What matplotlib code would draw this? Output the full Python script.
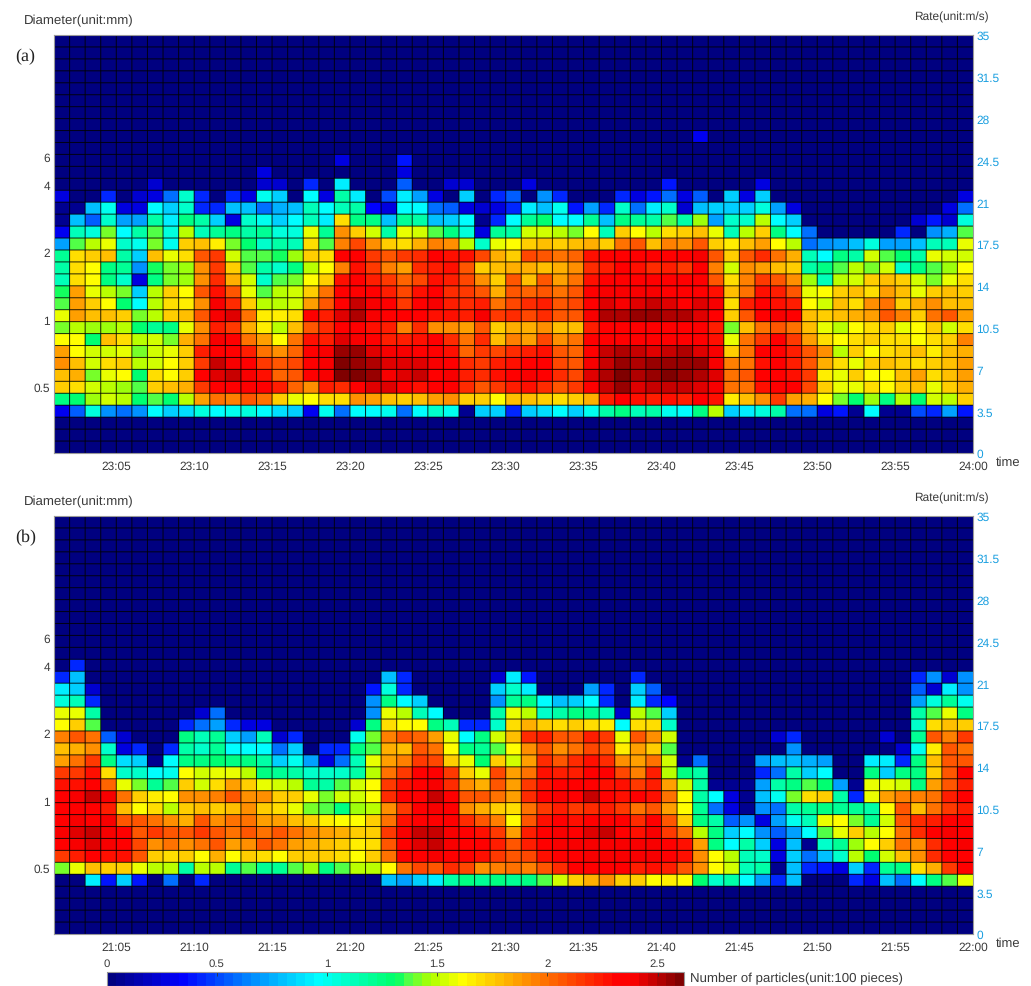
"""Particle-count spectra of rain drops, two panels sharing one colour bar."""
import numpy as np
import matplotlib
matplotlib.use("Agg")
import matplotlib.pyplot as plt
from matplotlib.colors import LinearSegmentedColormap

plt.rcParams["font.family"] = ["Liberation Sans", "DejaVu Sans"]
plt.rcParams["text.hinting"] = "no_hinting"

W, H = 1031, 987
N_COLS, N_ROWS = 59, 35
VMAX = 262  # particles; the bar reads in hundreds

# ---- panel (a): particles per cell, one list per rate bin (1 m/s), 59 minutes ----
a03 = [30,55,105,68,58,68,95,82,88,105,98,100,105,95,88,82,30,100,58,96,95,100,58,97,108,100,5,82,85,45,
       82,88,96,85,100,115,125,112,118,102,96,126,148,85,94,106,116,58,60,28,40,5,97,5,5,50,42,70,38]
a04 = [125,130,147,155,150,130,138,128,148,188,200,195,205,200,172,158,160,170,168,192,185,180,175,180,185,192,172,175,162,180,
       178,172,168,172,182,222,236,228,222,228,222,234,226,165,178,192,214,186,182,162,140,128,147,125,150,128,153,150,172]
a05 = [172,170,155,148,146,138,172,178,182,215,232,232,232,230,222,203,192,224,218,236,242,242,230,228,232,232,220,208,215,222,
       228,218,208,214,236,246,256,243,247,247,248,243,241,198,200,228,236,230,212,172,157,156,168,163,172,180,156,172,183]
a06 = [180,183,140,156,160,128,170,163,172,230,244,246,238,226,202,205,236,238,258,258,254,238,242,246,236,238,222,218,226,235,
       238,236,220,212,243,250,258,253,256,258,255,253,245,198,205,236,234,228,214,165,158,172,163,162,178,185,170,180,185]
a07 = [190,178,155,170,172,148,155,160,175,216,247,238,236,216,205,210,236,238,258,256,252,244,243,244,238,236,218,215,222,228,
       230,232,212,205,238,247,256,253,254,256,255,254,238,195,200,228,236,222,205,182,168,158,176,178,172,168,172,180,188]
a08 = [188,162,155,153,156,140,153,158,172,222,236,236,224,200,190,202,236,238,256,256,245,238,238,237,232,228,203,215,212,218,
       222,226,205,203,236,246,250,248,245,247,250,244,238,175,198,230,236,222,205,190,148,172,163,170,172,178,165,178,182]
a09 = [162,161,130,178,170,150,155,140,182,198,238,234,200,185,163,198,228,225,243,238,230,222,222,228,234,218,200,218,180,195,
       188,212,190,198,230,236,236,232,234,236,233,236,226,156,200,215,232,216,186,170,162,168,176,168,168,162,170,172,195]
a10 = [143,150,146,147,150,128,122,125,158,192,225,216,182,165,150,180,205,218,236,236,228,222,195,218,192,192,185,205,172,182,
       182,190,180,178,222,236,236,236,236,236,236,236,222,142,178,200,205,198,178,158,150,162,170,172,158,160,172,152,168]
a11 = [156,185,178,180,175,140,150,172,180,205,240,243,198,165,165,170,234,225,245,250,238,230,233,234,228,226,224,238,214,218,
       212,220,205,208,241,252,251,254,255,253,250,243,236,172,205,236,238,232,180,172,178,182,188,205,195,172,198,205,188]
a12 = [138,188,172,163,128,97,150,170,164,190,238,220,175,150,148,155,188,205,236,246,240,230,215,236,238,224,220,224,200,210,
       218,222,205,212,236,245,238,243,248,245,236,245,238,170,222,232,226,222,163,155,178,170,192,198,175,182,190,180,180]
a13 = [135,185,156,150,140,85,150,172,163,208,228,205,156,138,148,155,172,198,236,234,236,224,212,228,234,218,214,208,182,205,
       203,205,198,205,232,241,238,238,238,236,236,236,228,178,200,228,222,205,158,162,172,178,170,186,178,158,172,178,176]
a14 = [112,170,162,125,108,28,125,140,146,192,218,182,152,108,138,140,162,175,226,234,224,216,202,212,228,222,212,190,172,205,
       178,205,188,200,228,236,236,236,236,232,230,236,205,170,195,214,205,190,146,112,150,153,172,180,172,152,140,158,168]
a15 = [115,170,163,125,120,68,135,140,146,192,215,172,138,118,108,125,148,162,195,228,215,195,188,218,222,226,208,172,178,182,
       182,178,182,192,220,222,232,226,220,224,216,236,195,154,190,188,180,172,118,125,138,148,142,155,110,125,136,147,163]
a16 = [120,168,172,180,118,82,178,158,170,208,216,155,136,138,135,146,172,170,234,236,215,208,215,220,234,228,226,212,182,176,
       212,205,198,203,226,236,236,236,232,236,236,238,205,172,208,220,198,182,112,98,125,118,155,138,128,118,156,155,152]
a17 = [70,138,150,156,108,100,140,100,172,180,165,140,128,110,115,112,170,136,195,212,190,172,168,182,195,190,150,108,158,163,
       172,178,172,178,182,175,198,208,178,195,192,208,172,165,178,185,163,148,58,68,72,80,106,72,72,80,112,112,158]
a18 = [30,112,104,140,97,115,136,105,150,112,122,126,115,120,106,106,158,122,190,172,153,118,156,152,138,126,105,28,122,115,
       154,152,148,142,162,112,172,163,148,170,172,178,156,112,150,172,125,98,58,0,0,0,0,0,42,0,68,75,138]
a19 = [8,80,55,108,70,70,115,92,124,115,82,28,110,102,82,96,112,92,170,124,125,78,122,115,78,85,98,8,42,95,
       122,128,98,97,122,80,125,122,116,136,118,147,70,110,108,150,96,85,0,0,0,0,0,0,0,24,40,22,105]
a20 = [8,8,80,102,28,25,95,82,108,42,45,80,78,58,75,78,112,97,112,118,35,28,97,98,58,55,28,22,28,42,
       92,78,100,38,70,42,108,60,92,108,24,80,85,85,82,104,70,25,0,0,0,0,0,0,0,0,0,25,60]
a21 = [28,0,0,45,0,22,25,58,110,42,0,42,28,102,82,0,98,28,115,92,0,52,92,70,28,0,82,0,42,55,
       0,68,42,0,0,0,42,28,40,58,25,55,0,85,28,85,0,0,0,0,0,0,0,0,0,0,0,0,26]
A_ROWS = dict(zip(range(3, 22), [a03, a04, a05, a06, a07, a08, a09, a10, a11, a12, a13, a14, a15, a16, a17, a18, a19, a20, a21]))
# the few isolated cells higher up: rate bin, minute index, particles
a_top_bins = [22, 22, 22, 22, 22, 22, 22, 22, 22, 22, 22, 23, 23, 24, 24, 26]
a_top_cols = [6, 13, 14, 16, 18, 22, 25, 26, 30, 39, 45, 13, 22, 18, 22, 41]
a_top_vals = [24, 24, 24, 45, 92, 55, 24, 24, 26, 38, 26, 25, 28, 26, 38, 30]

# ---- panel (b) ----
b04 = [0,0,92,40,82,40,0,58,0,42,0,0,0,0,0,0,0,0,0,0,0,80,72,82,92,118,124,122,125,120,
       125,138,155,172,182,192,172,172,162,165,162,128,110,118,96,70,42,78,0,0,0,42,28,78,60,95,125,138,158]
b05 = [140,158,180,175,175,158,150,150,115,148,150,122,136,122,120,136,147,125,138,148,150,163,198,212,205,218,212,192,195,198,
       195,205,218,232,234,232,230,222,228,222,205,190,163,154,112,116,8,80,42,38,25,82,42,120,124,168,182,214,230]
b06 = [215,222,236,226,226,205,172,170,172,163,182,162,175,168,163,172,176,172,170,160,172,200,230,236,238,236,232,228,214,208,
       212,226,236,236,238,241,238,238,238,236,226,192,162,150,112,108,25,82,58,80,108,148,128,155,178,192,218,236,236]
b07 = [236,238,245,238,230,212,190,200,190,198,208,188,190,205,200,188,182,178,172,165,170,205,236,242,246,238,236,232,222,205,
       222,234,238,238,241,238,238,238,238,232,226,188,125,97,118,82,25,80,8,108,122,147,163,172,198,190,220,236,238]
b08 = [238,245,246,238,234,205,216,208,208,214,208,200,208,200,205,198,190,185,182,175,172,216,238,246,247,238,236,228,216,188,
       222,236,238,236,243,247,232,228,238,216,198,150,126,84,95,68,56,70,97,138,156,172,150,162,200,220,230,238,236]
b09 = [236,238,236,238,205,205,198,190,182,205,190,198,200,188,186,180,172,165,162,160,172,198,228,236,236,234,218,205,195,163,
       205,226,236,228,234,236,232,218,236,205,172,125,115,55,68,26,70,102,112,158,162,142,120,155,208,218,222,230,236]
b10 = [230,232,236,222,178,162,170,150,172,180,172,180,192,172,168,157,140,138,125,147,150,190,215,236,238,230,190,182,172,170,
       198,214,222,215,220,222,216,200,205,185,163,122,58,26,8,68,58,118,122,125,122,120,115,163,205,178,200,214,222]
b11 = [236,241,247,238,198,172,164,161,190,192,195,205,192,190,172,172,157,142,155,155,162,220,230,236,247,230,208,206,198,188,
       218,234,238,236,246,236,228,236,226,200,163,118,97,26,8,80,100,140,168,172,118,42,156,188,195,195,198,222,232]
b12 = [226,228,234,203,156,140,122,138,172,155,170,188,172,158,152,148,122,118,136,155,163,216,226,236,238,218,190,182,205,185,
       215,228,230,232,233,228,226,216,224,185,155,118,8,8,8,72,115,126,138,128,72,8,158,157,152,125,188,208,224]
b13 = [214,216,228,170,108,108,95,100,162,155,158,156,148,126,122,118,110,108,110,118,150,200,214,236,234,216,172,158,212,185,
       198,226,222,224,236,236,212,195,222,148,124,116,0,0,0,44,58,115,82,96,0,0,124,84,124,125,175,205,236]
b14 = [188,200,216,125,90,85,8,98,124,126,128,126,124,116,85,100,70,25,60,112,156,185,195,214,210,172,158,128,172,152,
       188,218,205,218,226,218,192,188,200,152,8,60,0,0,0,72,80,78,76,70,0,0,94,92,45,124,180,205,205]
b15 = [178,182,190,110,25,42,0,42,115,110,122,95,97,95,60,82,0,42,42,125,138,182,178,208,198,162,126,122,138,163,
       192,205,192,200,212,205,165,185,175,136,0,0,0,0,0,0,0,68,0,0,0,0,0,0,24,100,164,205,200]
b16 = [195,205,198,55,24,0,0,0,125,114,120,85,70,112,24,42,0,0,0,100,140,195,205,203,185,156,96,125,155,178,
       218,222,205,208,224,215,158,205,190,155,0,0,0,0,0,0,24,42,0,0,0,0,0,24,0,120,205,195,215]
b17 = [162,175,138,0,0,0,0,0,42,58,70,42,26,26,0,0,0,0,0,24,125,170,163,162,125,114,44,42,108,170,
       182,172,170,175,170,165,98,170,168,108,0,0,0,0,0,0,0,0,0,0,0,0,0,0,0,110,170,178,172]
b18 = [158,156,116,0,0,0,0,0,0,24,58,0,0,0,0,0,0,0,0,0,68,157,150,112,96,0,0,0,115,158,
       150,108,118,125,122,114,24,150,138,84,0,0,0,0,0,0,0,0,0,0,0,0,0,0,0,118,136,157,125]
b19 = [106,114,42,0,0,0,0,0,0,0,0,0,0,0,0,0,0,0,0,0,68,124,96,85,0,0,0,0,68,122,
       125,96,80,84,97,44,0,92,42,36,0,0,0,0,0,0,0,0,0,0,0,0,0,0,0,70,104,122,102]
b20 = [94,84,24,0,0,0,0,0,0,0,0,0,0,0,0,0,0,0,0,0,38,104,42,0,0,0,0,0,82,110,
       92,0,0,0,70,42,0,84,55,0,0,0,0,0,0,0,0,0,0,0,0,0,0,0,0,55,24,94,68]
b21 = [42,78,0,0,0,0,0,0,0,0,0,0,0,0,0,0,0,0,0,0,0,78,44,0,0,0,0,0,24,92,
       38,0,0,0,0,0,0,44,0,0,0,0,0,0,0,0,0,0,0,0,0,0,0,0,0,42,68,24,68]
B_ROWS = dict(zip(range(4, 22), [b04, b05, b06, b07, b08, b09, b10, b11, b12, b13, b14, b15, b16, b17, b18, b19, b20, b21]))
b_top_bins = [22]
b_top_cols = [1]
b_top_vals = [44]

# ---- axis text ----
tick_minutes = [4, 9, 14, 19, 24, 29, 34, 39, 44, 49, 54, 59]
a_times = ["23:05", "23:10", "23:15", "23:20", "23:25", "23:30", "23:35", "23:40", "23:45", "23:50", "23:55", "24:00"]
b_times = ["21:05", "21:10", "21:15", "21:20", "21:25", "21:30", "21:35", "21:40", "21:45", "21:50", "21:55", "22:00"]
rate_ticks = [0, 3.5, 7, 10.5, 14, 17.5, 21, 24.5, 28, 31.5, 35]
rate_labels = ["0", "3.5", "7", "10.5", "14", "17.5", "21", "24.5", "28", "31.5", "35"]
diam_pos = [5.6, 11.2, 16.85, 22.5, 24.8]
diam_labels = ["0.5", "1", "2", "4", "6"]
bar_ticks = [0, 50, 100, 150, 200, 250]
bar_labels = ["0", "0.5", "1", "1.5", "2", "2.5"]

# jet-like map as printed on the bar, 64 steps
stops = [(0, (0, 0, 128)), (33, (0, 0, 255)), (62, (0, 128, 255)), (96, (0, 255, 255)),
         (132, (0, 255, 100)), (136, (70, 255, 80)), (147, (170, 255, 0)), (162, (255, 255, 0)),
         (192, (255, 140, 0)), (233, (255, 0, 0)), (240, (255, 0, 0)), (VMAX, (128, 0, 0))]
cmap = LinearSegmentedColormap.from_list(
    "bar", [(p / VMAX, tuple(c / 255 for c in rgb)) for p, rgb in stops], N=64)

TEXT = "#3a3a3a"
RATE = "#1a9fe0"


def px_axes(fig, left, top, right, bottom):
    return fig.add_axes([left / W, 1 - bottom / H, (right - left) / W, (bottom - top) / H])


def grid_of(rows, bins, cols, vals):
    z = np.zeros((N_ROWS, N_COLS))
    for r, v in rows.items():
        z[r] = v
    z[bins, cols] = vals
    return z


def draw_panel(fig, top, z, times, tag):
    bottom = top + 418
    ax = px_axes(fig, 54, top, 973, bottom)
    mesh = ax.pcolormesh(np.arange(N_COLS + 1), np.arange(N_ROWS + 1), z, cmap=cmap, vmin=0, vmax=VMAX)
    # separate, unsnapped lines: pcolormesh edges come out uneven at this cell size
    ax.vlines(np.arange(1, N_COLS), 0, N_ROWS, color="black", lw=0.75, alpha=0.8).set_snap(False)
    ax.hlines(np.arange(1, N_ROWS), 0, N_COLS, color="black", lw=0.75, alpha=0.8).set_snap(False)
    ax.set_xlim(0, N_COLS); ax.set_ylim(0, N_ROWS)
    ax.set_xticks(tick_minutes, times, fontsize=8.6, color=TEXT)
    ax.set_yticks(diam_pos, diam_labels, fontsize=8.6, color=TEXT)
    ax.tick_params(length=0, pad=3)
    ax.tick_params(axis="x", pad=5)
    for s in ax.spines.values():
        s.set_color("#9a9a9a"); s.set_linewidth(0.8)
    right = ax.twinx()
    right.set_ylim(0, N_ROWS)
    right.set_yticks(rate_ticks, rate_labels, fontsize=8.6, color=RATE)
    right.tick_params(length=0, pad=2.5)
    for s in right.spines.values():
        s.set_visible(False)
    fig.text(24 / W, 1 - (top - 15) / H, "Diameter(unit:mm)", fontsize=9.5, color=TEXT, va="center")
    fig.text(989 / W, 1 - (top - 19) / H, "Rate(unit:m/s)", fontsize=8.6, color=TEXT, va="center", ha="right")
    fig.text(996 / W, 1 - (bottom + 9) / H, "time", fontsize=9.4, color=TEXT, va="center")
    fig.text(15 / W, 1 - (top + 21) / H, tag, fontsize=13, family="Liberation Serif", color="#222222", va="center")
    return mesh


fig = plt.figure(figsize=(W / 100, H / 100), dpi=100)
mesh = draw_panel(fig, 36, grid_of(A_ROWS, a_top_bins, a_top_cols, a_top_vals), a_times, "(a)")
draw_panel(fig, 517, grid_of(B_ROWS, b_top_bins, b_top_cols, b_top_vals), b_times, "(b)")

cax = px_axes(fig, 106.5, 973, 684, 987)
cb = fig.colorbar(mesh, cax=cax, orientation="horizontal", ticklocation="top")
cb.set_ticks(bar_ticks, labels=bar_labels, fontsize=8.2, color=TEXT)
cax.tick_params(length=3, width=0.6, direction="in", pad=3, color="#333333")
cb.outline.set_edgecolor("#9a9a9a"); cb.outline.set_linewidth(0.8)
fig.text(690 / W, 1 - 979 / H, "Number of particles(unit:100 pieces)", fontsize=9.5, color=TEXT, va="center")

fig.savefig("out.png", dpi=100)
